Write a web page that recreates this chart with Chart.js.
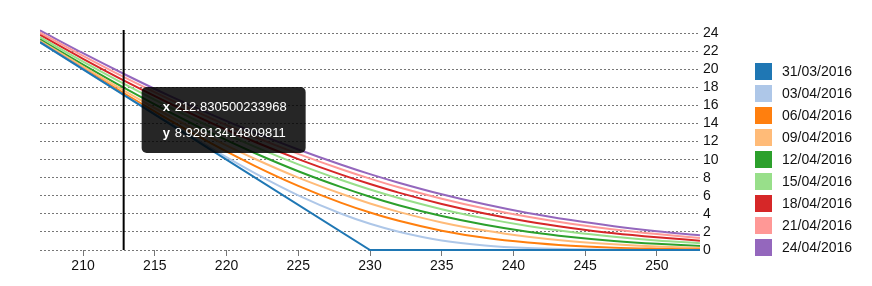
<!DOCTYPE html>
<html lang="es">
<head>
  <meta charset="UTF-8" />
  <title>Valor de la put por fecha</title>
  <script src="https://cdn.jsdelivr.net/npm/chart.js@4"></script>
  <style>
    body {
      margin: 0;
      background: #fff;
    }
    canvas {
      display: block;
    }
  </style>
</head>
<body>
  <canvas id="chart" width="872" height="286"></canvas>

  <script>
    // Fechas (una curva por fecha)
    const fechas = ['31/03/2016', '03/04/2016', '06/04/2016', '09/04/2016', '12/04/2016',
                    '15/04/2016', '18/04/2016', '21/04/2016', '24/04/2016'];

    // Precio del subyacente (eje x) para las curvas suaves
    const precios = [207, 210, 213, 216, 219, 222, 225, 228, 230, 232, 235, 238, 241, 244, 247, 250, 253];

    // 31/03: curva con quiebre en 230
    const preciosPayoff = [207, 230, 253];
    const valores3103 = [23, 0, 0];

    // Valores
    const valores0304 = [23.00, 20.01, 17.02, 14.06, 11.19, 8.48, 6.05, 4.01, 2.90, 2.02, 1.05, 0.50, 0.21, 0.09, 0.03, 0.01, 0.00];
    const valores0604 = [23.04, 20.09, 17.19, 14.39, 11.74, 9.29, 7.10, 5.22, 4.15, 3.23, 2.14, 1.35, 0.82, 0.47, 0.25, 0.14, 0.07];
    const valores0904 = [23.16, 20.29, 17.51, 14.85, 12.36, 10.07, 8.01, 6.22, 5.15, 4.22, 3.05, 2.15, 1.47, 0.97, 0.63, 0.39, 0.24];
    const valores1204 = [23.31, 20.53, 17.84, 15.29, 12.90, 10.71, 8.72, 6.96, 5.90, 4.96, 3.76, 2.79, 2.02, 1.44, 1.00, 0.68, 0.45];
    const valores1504 = [23.56, 20.86, 18.27, 15.82, 13.53, 11.41, 9.48, 7.75, 6.70, 5.76, 4.52, 3.50, 2.66, 1.99, 1.47, 1.06, 0.76];
    const valores1804 = [23.80, 21.16, 18.63, 16.25, 14.01, 11.95, 10.06, 8.34, 7.30, 6.35, 5.10, 4.04, 3.15, 2.44, 1.85, 1.40, 1.03];
    const valores2104 = [24.06, 21.49, 19.02, 16.70, 14.52, 12.49, 10.64, 8.94, 7.90, 6.94, 5.68, 4.59, 3.67, 2.90, 2.27, 1.76, 1.34];
    const valores2404 = [24.31, 21.78, 19.37, 17.08, 14.95, 12.96, 11.13, 9.44, 8.40, 7.45, 6.17, 5.06, 4.10, 3.31, 2.63, 2.08, 1.63];

    // Ticks
    const xTicks = [210, 215, 220, 225, 230, 235, 240, 245, 250];
    const yTicks = [0, 2, 4, 6, 8, 10, 12, 14, 16, 18, 20, 22, 24];

    // Posición del cursor (tooltip)
    const cursorX = 212.830500233968;
    const cursorY = 8.92913414809811;

    const colores = ['#1f77b4', '#aec7e8', '#ff7f0e', '#ffbb78', '#2ca02c',
                     '#98df8a', '#d62728', '#ff9896', '#9467bd'];

    const FUENTE = 'Arial, "Liberation Sans", sans-serif';
    Chart.defaults.font.family = FUENTE;
    Chart.defaults.font.size = 14;
    Chart.defaults.color = '#111';

    const toPts = (xs, ys) => xs.map((x, i) => ({ x: x, y: ys[i] }));

    const series = [
      toPts(preciosPayoff, valores3103),
      toPts(precios, valores0304),
      toPts(precios, valores0604),
      toPts(precios, valores0904),
      toPts(precios, valores1204),
      toPts(precios, valores1504),
      toPts(precios, valores1804),
      toPts(precios, valores2104),
      toPts(precios, valores2404)
    ];

    const datasets = series.map((pts, i) => ({
      label: fechas[i],
      data: pts,
      borderColor: colores[i],
      backgroundColor: colores[i],
      borderWidth: 2,
      pointRadius: 0,
      fill: false,
      clip: { left: 0, right: 0, top: 3, bottom: 3 },
      tension: i === 0 ? 0 : 0.4,
      cubicInterpolationMode: i === 0 ? 'default' : 'monotone'
    }));

    // cursor vertical, tooltip y leyenda
    const extras = {
      id: 'extras',
      afterDraw(chart) {
        const ctx = chart.ctx;
        const area = chart.chartArea;
        const px = chart.scales.x.getPixelForValue(cursorX);

        ctx.save();
        ctx.strokeStyle = '#000';
        ctx.lineWidth = 2;
        ctx.beginPath();
        ctx.moveTo(px, area.top);
        ctx.lineTo(px, area.bottom);
        ctx.stroke();

        // tooltip
        const left = px + 18, top = 87, w = 164, h = 66;
        ctx.fillStyle = 'rgba(0,0,0,0.85)';
        ctx.beginPath();
        ctx.roundRect(left, top, w, h, 5);
        ctx.fill();
        ctx.fillStyle = '#fff';
        ctx.textBaseline = 'middle';
        ctx.font = 'bold 13px ' + FUENTE;
        ctx.fillText('x', left + 21, top + 20);
        ctx.fillText('y', left + 21, top + 46);
        ctx.font = '13px ' + FUENTE;
        ctx.fillText(String(cursorX), left + 33, top + 20);
        ctx.fillText(String(cursorY), left + 33, top + 46);

        // leyenda
        chart.data.datasets.forEach((ds, i) => {
          const y0 = 63 + i * 22;
          ctx.fillStyle = ds.borderColor;
          ctx.fillRect(755, y0, 17, 17);
          ctx.fillStyle = '#111';
          ctx.font = '14px ' + FUENTE;
          ctx.fillText(ds.label, 782, y0 + 9);
        });
        ctx.restore();
      }
    };

    new Chart(document.getElementById('chart'), {
      type: 'line',
      data: { datasets: datasets },
      options: {
        responsive: false,
        animation: false,
        layout: { padding: { left: 40, top: 30, right: 0, bottom: 0 } },
        plugins: {
          legend: { display: false },
          tooltip: { enabled: false }
        },
        scales: {
          x: {
            type: 'linear',
            min: 207,
            max: 253,
            afterBuildTicks: s => { s.ticks = xTicks.map(v => ({ value: v })); },
            afterFit: s => { s.height = 36; },
            grid: { drawOnChartArea: false, drawTicks: true, tickLength: 6, color: '#777' },
            border: { display: false },
            ticks: { padding: 2, maxRotation: 0, autoSkip: false, color: '#111' }
          },
          y: {
            position: 'right',
            min: 0,
            max: 24.35,
            afterBuildTicks: s => { s.ticks = yTicks.map(v => ({ value: v })); },
            afterFit: s => { s.width = 172; },
            grid: { color: '#777', drawTicks: false },
            border: { display: false, dash: [2, 2] },
            ticks: { padding: 3, autoSkip: false, color: '#111' }
          }
        }
      },
      plugins: [extras]
    });
  </script>
</body>
</html>
